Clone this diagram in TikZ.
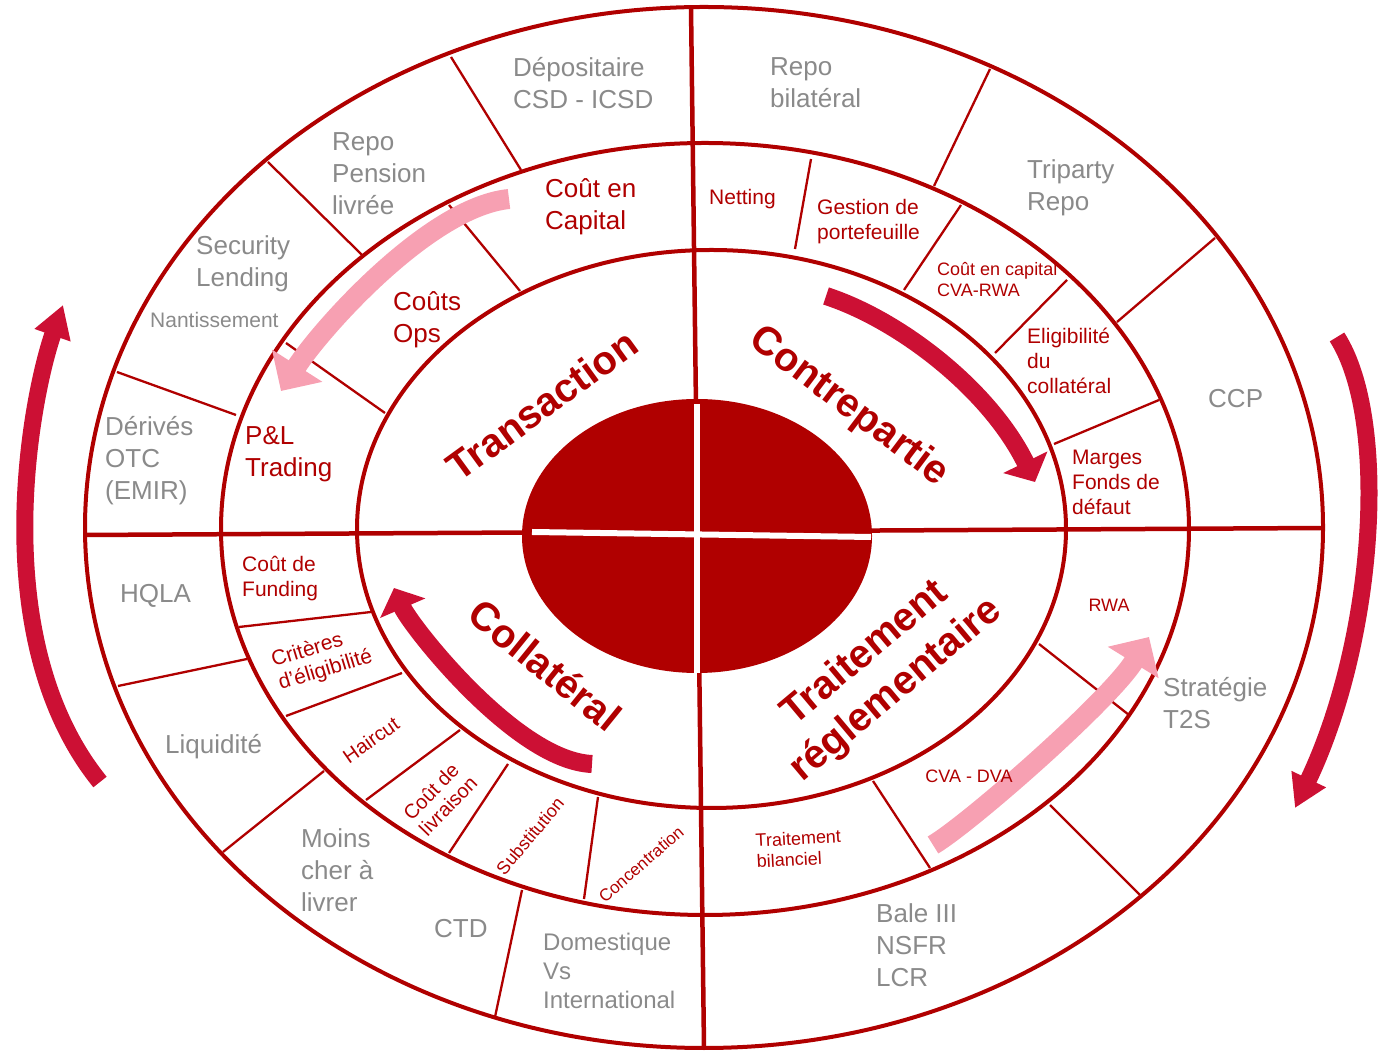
\documentclass[tikz,border=0pt]{standalone}
\usepackage{fontspec}
\setmainfont{Liberation Sans}
\usetikzlibrary{arrows.meta}
\definecolor{ringred}{RGB}{176,0,0}
\definecolor{labelgray}{RGB}{138,138,138}
\definecolor{arrowred}{RGB}{204,16,52}
\definecolor{arrowpink}{RGB}{247,160,178}
\tikzset{%
	ring/.style={draw=ringred, line width=4pt},
	divider/.style={draw=ringred, line width=2.3pt},
	outer label/.style={
		text=labelgray,
		font=\fontsize{26}{32}\selectfont,
		align=left, anchor=west, inner sep=0pt, yshift=-2pt
	},
	cell label/.style={
		text=ringred,
		align=left, anchor=west, inner sep=0pt, yshift=-2pt
	},
	turned label/.style={
		text=ringred,
		align=left, anchor=center, inner sep=0pt
	},
	theme label/.style={
		text=ringred,
		font=\bfseries\fontsize{40}{48}\selectfont,
		align=center, inner sep=0pt
	},
	cycle arrow/.style={draw=arrowred, line width=17pt, -{Triangle[length=32pt, width=36pt]}},
	turn arrow/.style={draw=arrowred, line width=18pt, -{Triangle[length=22pt, width=48pt]}},
	soft arrow/.style={draw=arrowpink, line width=20pt, -{Triangle[length=30pt, width=58pt]}},
}

\begin{document}
\begin{tikzpicture}[x=1pt, y=1pt]
		\useasboundingbox (0,0) rectangle (1381,1052);
		
		% rings
		\draw[ring] (704,524.5) ellipse [x radius=619pt, y radius=520.5pt];
		\draw[ring] (705,523) ellipse [x radius=484pt, y radius=386pt];
		\draw[ring] (711.5,523) ellipse [x radius=354.5pt, y radius=279pt];
		
		% axes
		\draw[ring, line width=4.5pt] (691,1045) -- (704,4);
		\draw[ring, line width=4.5pt] (85,517) -- (1323,524);
		
		% dividers
		\foreach \xa/\ya/\xb/\yb in {451/995/521/882, 268/890/362/797, 117/680/236/637,
			449/847/520/761, 286/709/385/639, 990/983/934/866, 1215/814/1117/730,
			811/893/795/803, 961/847/904/762, 1067/772/995/699, 1159/652/1054/608,
			118/366/247/393, 223/200/324/281, 495/35/522/162, 239/425/371/440,
			286/336/402/379, 366/252/460/322, 449/199/508/288, 584/153/598/255,
			1050/247/1141/156, 1039/408/1129/337, 873/271/930/184}
		\draw[divider] (\xa,\ya) -- (\xb,\yb);
		
		% core
		\fill[ringred] (697,516) ellipse [x radius=175pt, y radius=137pt];
		\draw[white, line width=6pt] (697,648) -- (697,379);
		\draw[white, line width=6pt] (532,520) -- (871,515);
		
		% arrows
		\draw[cycle arrow] (100,270) .. controls (-15,412) and (30,652) .. (63,747);
		\draw[cycle arrow] (1337,715) .. controls (1390,632) and (1375,412) .. (1295,244);
		\draw[turn arrow] (826,756) .. controls (900,732) and (990,662) .. (1035,570);
		\draw[turn arrow] (592,288) .. controls (516,291) and (410,427) .. (394,464);
		\draw[soft arrow] (509,853) .. controls (429,845) and (320,722) .. (281,661);
		\draw[soft arrow] (933,207) .. controls (970,229) and (1110,352) .. (1149,415);
		
		% themes
		\node[theme label, rotate=36] (transaction) at (542,647) {Transaction};
		\node[theme label, rotate=-37] (contrepartie) at (849,645) {Contrepartie};
		\node[theme label, rotate=-39] (collateral) at (545,387) {Collatéral};
		\node[theme label, rotate=40] (traitement) at (881,380) {Traitement\\réglementaire};
		
		% outer ring
		\node[outer label] (depositaire) at (513,971) {Dépositaire\\CSD - ICSD};
		\node[outer label] (repo-pension) at (332,880) {Repo\\Pension\\livrée};
		\node[outer label] (sec-lending) at (196,790) {Security\\Lending};
		\node[outer label, font=\fontsize{21}{25}\selectfont] (nantissement) at (150,734) {Nantissement};
		\node[outer label] (derives) at (105,593) {Dérivés\\OTC\\(EMIR)};
		\node[outer label] (repo-bilat) at (770,971) {Repo\\bilatéral};
		\node[outer label] (triparty) at (1027,866) {Triparty\\Repo};
		\node[outer label] (ccp) at (1208,655) {CCP};
		\node[outer label] (hqla) at (120,458) {HQLA};
		\node[outer label] (liquidite) at (165,307) {Liquidité};
		\node[outer label] (moins-cher) at (301,184) {Moins\\cher à\\livrer};
		\node[outer label] (ctd) at (434,125) {CTD};
		\node[outer label, font=\fontsize{24}{29}\selectfont] (domestique) at (543,83) {Domestique\\Vs\\International};
		\node[outer label] (strategie) at (1163,351) {Stratégie\\T2S};
		\node[outer label] (bale) at (876,109) {Bale III\\NSFR\\LCR};
		
		% middle ring
		\node[cell label, font=\fontsize{26}{32}\selectfont] (cout-capital) at (545,847) {Coût en\\Capital};
		\node[cell label, font=\fontsize{26}{32}\selectfont] (couts-ops) at (393,734) {Coûts\\Ops};
		\node[cell label, font=\fontsize{26}{32}\selectfont] (pnl) at (245,600) {P\&L\\Trading};
		\node[cell label, font=\fontsize{21}{25}\selectfont] (netting) at (709,855) {Netting};
		\node[cell label, font=\fontsize{21}{25}\selectfont] (gestion) at (817,832) {Gestion de\\portefeuille};
		\node[cell label, font=\fontsize{18}{21}\selectfont] (cva-rwa) at (937,774) {Coût en capital\\CVA-RWA};
		\node[cell label, font=\fontsize{21}{25}\selectfont] (eligibilite) at (1027,693) {Eligibilité\\du\\collatéral};
		\node[cell label, font=\fontsize{21}{25}\selectfont] (marges) at (1072,572) {Marges\\Fonds de\\défaut};
		\node[turned label, font=\fontsize{18}{21}\selectfont] (rwa) at (1109,447) {RWA};
		\node[turned label, font=\fontsize{18}{21}\selectfont] (cva-dva) at (969,276) {CVA - DVA};
		\node[cell label, rotate=3, font=\fontsize{18}{21}\selectfont] (bilanciel) at (756,203) {Traitement\\bilanciel};
		\node[cell label, font=\fontsize{21}{25}\selectfont] (funding) at (242,475) {Coût de\\Funding};
		\node[turned label, rotate=17, font=\fontsize{21}{24}\selectfont] (criteres) at (322,393) {Critères\\d’éligibilité};
		\node[turned label, rotate=35, font=\fontsize{20}{23}\selectfont] (haircut) at (371,312) {Haircut};
		\node[turned label, rotate=46, font=\fontsize{20}{22}\selectfont] (livraison) at (440,254) {Coût de\\livraison};
		\node[turned label, rotate=50, font=\fontsize{18}{21}\selectfont] (substitution) at (530,216) {Substitution};
		\node[turned label, rotate=41, font=\fontsize{17}{20}\selectfont] (concentration) at (641,188) {Concentration};
		
\end{tikzpicture}
\end{document}
